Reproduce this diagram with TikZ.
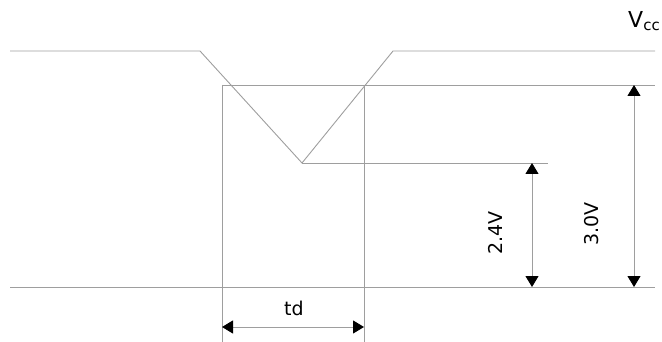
\documentclass[tikz,border=0pt]{standalone}
\usepackage{fontspec}
\setmainfont{DejaVu Sans}
\usetikzlibrary{arrows.meta}
\begin{document}
\begin{tikzpicture}[x=1pt,y=-1pt,
  wave/.style={draw=black!38,line width=0.9pt},
  dim/.style={draw=black!38,line width=0.9pt,{Triangle[length=11pt,width=13pt,black]}-{Triangle[length=11pt,width=13pt,black]}},
  lbl/.style={font=\fontsize{19}{22}\selectfont,inner sep=0pt}]
\useasboundingbox (0,0) rectangle (662,342);
% coordinates
\coordinate (a0) at (10,51);
\coordinate (a1) at (200,51);
\coordinate (v) at (302,163);
\coordinate (a2) at (393,51);
\coordinate (a3) at (655,51);
\coordinate (b0) at (222,85);
\coordinate (b1) at (655,85);
\coordinate (c1) at (364,85);
\coordinate (l0) at (222,342);
\coordinate (r0) at (364,342);
\coordinate (m1) at (548,163);
\coordinate (g0) at (10,287);
\coordinate (g1) at (655,287);
\coordinate (p1) at (532,163);
\coordinate (p2) at (532,287);
\coordinate (q1) at (634,85);
\coordinate (q2) at (634,287);
\coordinate (t1) at (222,327);
\coordinate (t2) at (364,327);
% waveform and guide lines
\draw[wave] (a0) -- (a1) -- (v) -- (a2) -- (a3);
\draw[wave] (b0) -- (b1);
\draw[wave] (b0) -- (l0);
\draw[wave] (c1) -- (r0);
\draw[wave] (v) -- (m1);
\draw[wave] (g0) -- (g1);
% dimensions
\draw[dim] (p1) -- (p2);
\draw[dim] (q1) -- (q2);
\draw[dim] (t1) -- (t2);
% labels
\node[lbl,rotate=90] (l24) at (495,233) {2.4V};
\node[lbl,rotate=90] (l30) at (592,224) {3.0V};
\node[lbl] (ltd) at (294,308) {td};
\node[inner sep=0pt,anchor=base west,font=\fontsize{22}{24}\selectfont] (vcc) at (628,28) {V\raisebox{-2.5pt}{\fontsize{15}{16}\selectfont cc}};
\end{tikzpicture}
\end{document}
